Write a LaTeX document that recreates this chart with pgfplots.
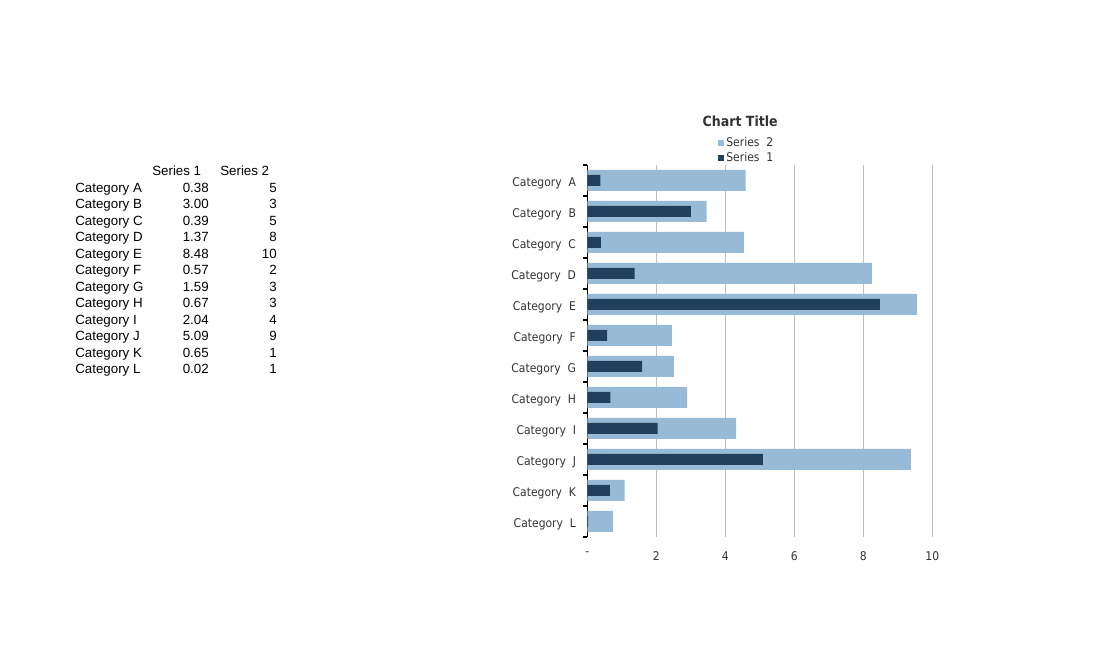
\documentclass[border=0pt]{standalone}
\usepackage{pgfplots}
\pgfplotsset{compat=1.18}
\usepackage{fontspec}
\setmainfont{Liberation Sans}
\newfontfamily\chartfont[FakeStretch=0.9]{DejaVu Sans}
\definecolor{lightbar}{RGB}{151,187,214}
\definecolor{darkbar}{RGB}{33,64,92}
\definecolor{gridgray}{RGB}{191,191,191}
\definecolor{txtgray}{RGB}{51,51,51}
\begin{document}
\begin{tikzpicture}
\path[use as bounding box] (0,0) rectangle (822.75pt,502.5pt);
% data table on the left
\begin{scope}[x=0.75pt,y=-0.75pt,yshift=502.5pt,font=\fontsize{10pt}{12pt}\selectfont]
\node[anchor=mid west,inner sep=0] at (152,172) {Series 1};
\node[anchor=mid west,inner sep=0] at (220,172) {Series 2};
\foreach \c/\a/\b [count=\i from 0] in {A/0.38/5,B/3.00/3,C/0.39/5,D/1.37/8,E/8.48/10,F/0.57/2,G/1.59/3,H/0.67/3,I/2.04/4,J/5.09/9,K/0.65/1,L/0.02/1}{
  \node[anchor=mid west,inner sep=0] at (75,189+16.45*\i) {Category \c};
  \node[anchor=mid east,inner sep=0] at (209,189+16.45*\i) {\a};
  \node[anchor=mid east,inner sep=0] at (277,189+16.45*\i) {\b};
}
\end{scope}
\begin{axis}[
  at={(440.5pt,99.75pt)}, anchor=south west,
  scale only axis, width=258.75pt, height=279pt,
  xmin=0, xmax=10, ymin=-0.5, ymax=11.5, y dir=reverse,
  axis lines*=left, separate axis lines,
  x axis line style={draw=none},
  y axis line style={draw=black, line width=0.8pt},
  xtick={0,2,4,6,8,10}, xticklabels={-,2,4,6,8,10},
  ytick={0,...,11},
  yticklabels={Category\ \ A,Category\ \ B,Category\ \ C,Category\ \ D,Category\ \ E,Category\ \ F,Category\ \ G,Category\ \ H,Category\ \ I,Category\ \ J,Category\ \ K,Category\ \ L},
  minor ytick={-0.5,0.5,...,11.5},
  major tick length=0pt, minor tick length=3pt,
  tick align=outside,
  minor tick style={draw=black, line width=0.8pt},
  xmajorgrids, major grid style={gridgray, line width=0.8pt},
  ticklabel style={font=\chartfont\fontsize{9pt}{10pt}\selectfont, text=txtgray},
  /pgf/number format/assume math mode=true,
  xticklabel style={yshift=-7.5pt},
  yticklabel style={xshift=-5pt, yshift=-2.25pt},
  legend style={at={(0.377,1.082)}, anchor=north west, draw=none, fill=none,
     font=\chartfont\fontsize{9pt}{10pt}\selectfont, text=txtgray,
     row sep=-1pt, inner sep=0pt, legend cell align=left},
  legend image code/.code={\fill[#1] (0pt,-2.25pt) rectangle (4.5pt,2.25pt);},
  clip=false,
]
\addplot[xbar, bar width=15.75pt, bar shift=0pt, fill=lightbar, draw=none] coordinates {
 (4.59,0) (3.46,1) (4.54,2) (8.25,3) (9.56,4) (2.45,5) (2.51,6) (2.89,7) (4.31,8) (9.38,9) (1.08,10) (0.74,11)};
\addlegendentry{Series\ \ 2}
\addplot[xbar, bar width=8.25pt, bar shift=0pt, fill=darkbar, draw=none] coordinates {
 (0.38,0) (3.00,1) (0.39,2) (1.37,3) (8.48,4) (0.57,5) (1.59,6) (0.67,7) (2.04,8) (5.09,9) (0.65,10) (0.02,11)};
\addlegendentry{Series\ \ 1}
\node[font=\chartfont\bfseries\fontsize{10.5pt}{12pt}\selectfont, text=txtgray] at (axis description cs:0.443,1.118) {Chart Title};
\end{axis}
\end{tikzpicture}
\end{document}
